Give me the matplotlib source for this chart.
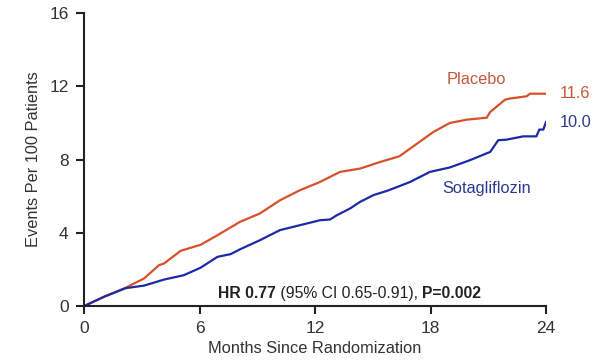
import matplotlib.pyplot as plt

plt.rcParams['font.family'] = ['Liberation Sans', 'DejaVu Sans']

# curvas (meses, eventos por 100 pacientes)
placebo_meses = [0, 1.04, 2.16, 3.12, 3.9, 4.16, 5.02, 6.06, 6.93, 8.1, 9.14, 10.18,
                 11.22, 12.26, 13.3, 14.34, 15.38, 16.38, 16.94, 18.15, 19.0, 19.88,
                 20.92, 21.1, 21.87, 22.1, 23.0, 23.17, 24.0]
placebo_valores = [0, 0.51, 1.0, 1.51, 2.24, 2.33, 3.02, 3.35, 3.87, 4.6, 5.06, 5.78,
                   6.33, 6.78, 7.33, 7.51, 7.87, 8.18, 8.6, 9.51, 10.0, 10.18,
                   10.29, 10.6, 11.27, 11.33, 11.46, 11.6, 11.6]

sota_meses = [0, 1.04, 2.16, 3.12, 4.16, 5.19, 6.06, 6.93, 7.62, 8.1, 9.14, 10.18,
              11.22, 12.26, 12.78, 13.13, 13.82, 14.34, 15.03, 15.73, 16.38, 16.94,
              17.97, 19.0, 20.05, 21.1, 21.52, 21.95, 22.82, 23.5, 23.65, 23.86, 24.0]
sota_valores = [0, 0.51, 0.98, 1.12, 1.45, 1.69, 2.1, 2.69, 2.84, 3.1, 3.6, 4.15,
                4.42, 4.69, 4.73, 4.96, 5.33, 5.69, 6.06, 6.29, 6.55, 6.78,
                7.33, 7.57, 7.97, 8.42, 9.06, 9.09, 9.27, 9.27, 9.64, 9.64, 10.05]

x_ticks = [0, 6, 12, 18, 24]
y_ticks = [0, 4, 8, 12, 16]

cor_placebo = '#d6502a'
cor_sota = '#1c2aa6'
cor_txt_placebo = '#c45a3c'
cor_txt_sota = '#2b3a8e'
cor_texto = '#333333'

fig = plt.figure(figsize=(6, 3.64), dpi=100)
ax = fig.add_axes([0.14, 0.159, 0.77, 0.805])

ax.plot(placebo_meses, placebo_valores, color=cor_placebo, lw=1.6)
ax.plot(sota_meses, sota_valores, color=cor_sota, lw=1.6)

ax.set_xlim(0, 24)
ax.set_ylim(0, 16)
ax.set_xticks(x_ticks)
ax.set_yticks(y_ticks)
ax.spines['top'].set_visible(False)
ax.spines['right'].set_visible(False)
for s in ['left', 'bottom']:
    ax.spines[s].set_linewidth(1.5)
    ax.spines[s].set_color('#222222')
ax.tick_params(direction='out', length=6, width=1.5, colors='#222222',
               labelsize=12.5, labelcolor=cor_texto, pad=5)

ax.set_xlabel('Months Since Randomization', fontsize=11.8, color=cor_texto, labelpad=3)
ax.set_ylabel('Events Per 100 Patients', fontsize=11.8, color=cor_texto, labelpad=6)

ax.text(20.4, 12.35, 'Placebo', color=cor_txt_placebo, fontsize=11.8, ha='center',
        va='center')
ax.text(24.7, 11.6, '11.6', color=cor_txt_placebo, fontsize=11.8, ha='left', va='center',
        clip_on=False)
ax.text(24.7, 10.0, '10.0', color=cor_txt_sota, fontsize=11.8, ha='left', va='center',
        clip_on=False)
ax.text(20.9, 6.42, 'Sotagliflozin', color=cor_txt_sota, fontsize=11.8, ha='center',
        va='center')

ax.text(6.95, 0.7, 'HR 0.77', fontsize=11.3, fontweight='bold', color='#222222',
        ha='left', va='center')
ax.annotate(' (95% CI 0.65-0.91), ', xy=(1, 0), xycoords=ax.texts[-1],
            xytext=(0, 0), textcoords='offset points', fontsize=11.3, color='#222222',
            va='bottom', ha='left')
ax.annotate('P=0.002', xy=(1, 0), xycoords=ax.texts[-1], xytext=(0, 0),
            textcoords='offset points', fontsize=11.3, fontweight='bold',
            color='#222222', va='bottom', ha='left')

fig.savefig('out.png', dpi=100)
